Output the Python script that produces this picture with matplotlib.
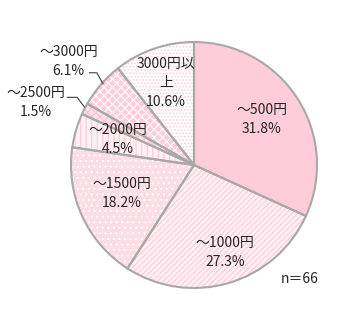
import matplotlib.pyplot as plt

plt.rcParams["font.family"] = ["Noto Sans CJK JP", "DejaVu Sans"]
plt.rcParams["hatch.linewidth"] = 0.8

labels = ["～500円", "～1000円", "～1500円", "～2000円", "～2500円", "～3000円", "3000円以\n上"]
shares = [31.8, 27.3, 18.2, 4.5, 1.5, 6.1, 10.6]
n_label = "n＝66"

face_colors = ["#FFCCD9", "#FFF1F5", "#FCDDE6", "#FFF1F5", "#FFE3EA", "#FFCCD9", "#FFFFFF"]
hatch_colors = ["#FFCCD9", "#FFC9D6", "#FFFFFF", "#FFC9D6", "#FFC0D0", "#FFFFFF", "#F8D2DC"]
hatches = [None, "//////", "...", "|||", "xxxx", "xxxx", "....."]

# label centres in axis units (pie radius = 1)
inside_pos = [(0.55, 0.37), (0.25, -0.71), (-0.59, -0.23), (-0.62, 0.21), None, None, (-0.23, 0.67)]
outside_pos = {4: (-1.29, 0.51), 5: (-1.02, 0.84)}
leader = {4: [(-1.03, 0.55), (-0.95, 0.55), (-0.89, 0.47)],
          5: [(-0.85, 0.75), (-0.79, 0.75), (-0.74, 0.66)]}

fig = plt.figure(figsize=(3.43, 3.31), dpi=100)
ax = fig.add_axes([71 / 343, 43 / 331, 246 / 343, 246 / 331])

fills, _ = ax.pie(shares, startangle=90, counterclock=False, radius=1,
                  colors=face_colors, wedgeprops=dict(linewidth=0))
for w, h, hc in zip(fills, hatches, hatch_colors):
    if h:
        w.set_hatch(h)
        w.set_edgecolor(hc)
ax.pie(shares, startangle=90, counterclock=False, radius=1,
       colors=["none"] * len(shares),
       wedgeprops=dict(edgecolor="#A8A8A8", linewidth=1.5, fill=False))

text_kw = dict(fontsize=10, color="#262626", ha="center", va="center", linespacing=1.45)
for i, (lab, val) in enumerate(zip(labels, shares)):
    if inside_pos[i] is not None:
        x, y = inside_pos[i]
        ax.text(x, y, f"{lab}\n{val}%", **text_kw)
    else:
        x, y = outside_pos[i]
        ax.text(x, y, f"{lab}\n{val}%", **text_kw)
        xs, ys = zip(*leader[i])
        ax.plot(xs, ys, color="#404040", linewidth=0.8, clip_on=False)

ax.text(0.86, -0.93, n_label, fontsize=10, color="#262626", ha="center", va="center")
ax.set_xlim(-1, 1)
ax.set_ylim(-1, 1)

fig.savefig("out.png", dpi=100)
